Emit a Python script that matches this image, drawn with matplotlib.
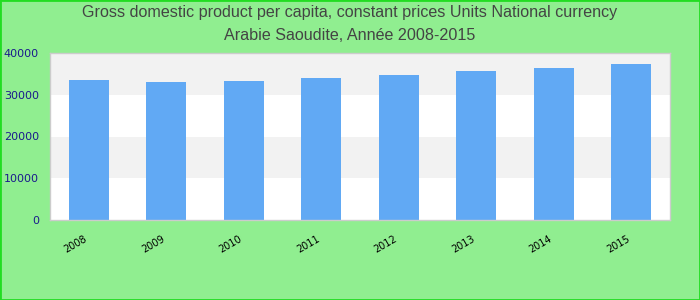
import matplotlib.pyplot as plt

years = ['2008', '2009', '2010', '2011', '2012', '2013', '2014', '2015']
gdp_per_capita = [33600, 33120, 33360, 34080, 34800, 35760, 36480, 37440]
y_ticks = [0, 10000, 20000, 30000, 40000]

plt.rcParams['font.family'] = ['Liberation Sans', 'DejaVu Sans']

fig = plt.figure(figsize=(7, 3), dpi=100, facecolor='#90ee90')
# cadre vert autour de la figure
fig.patches.append(plt.Rectangle((0, 0), 1, 1, transform=fig.transFigure,
                                 fill=False, edgecolor='#22dd22', linewidth=2))
ax = fig.add_axes([50 / 700, 80 / 300, 620 / 700, 167 / 300])

# bandes alternées
for i in range(len(y_ticks) - 1):
    c = '#f2f2f2' if i % 2 == 1 else 'white'
    ax.axhspan(y_ticks[i], y_ticks[i + 1], color=c, zorder=0, lw=0)

x = range(len(years))
ax.bar(x, gdp_per_capita, width=0.52, color='#61a9f4', zorder=2)

ax.set_xlim(-0.5, len(years) - 0.5)
ax.set_ylim(0, 40000)
ax.set_yticks(y_ticks)
ax.set_yticklabels([str(v) for v in y_ticks], color='#1a1a8c', fontsize=8,
                   family='DejaVu Sans')
ax.set_xticks(list(x))
ax.set_xticklabels(years, rotation=30, ha='right', fontsize=7,
                   family='DejaVu Sans')
ax.tick_params(axis='x', length=0, pad=10)
ax.tick_params(axis='y', length=0, pad=8)
for s in ax.spines.values():
    s.set_color('#cccccc')
    s.set_linewidth(1)

fig.text(0.5, 1 - 13 / 300, 'Gross domestic product per capita, constant prices Units National currency',
         ha='center', va='center', fontsize=11.6, color='#444444')
fig.text(0.5, 1 - 35 / 300, 'Arabie Saoudite, Année 2008-2015',
         ha='center', va='center', fontsize=11.6, color='#444444')

fig.savefig('out.png', dpi=100, facecolor=fig.get_facecolor())
